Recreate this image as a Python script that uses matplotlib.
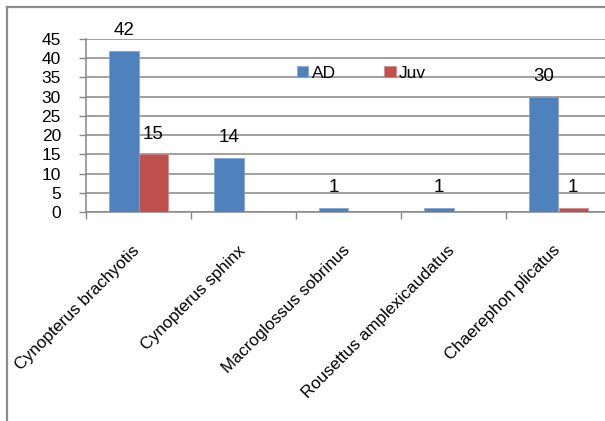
import matplotlib
matplotlib.use("Agg")
import matplotlib.pyplot as plt
from matplotlib import font_manager
from matplotlib.lines import Line2D
import matplotlib.transforms as mtransforms
import numpy as np

species = ["Cynopterus brachyotis", "Cynopterus sphinx", "Macroglossus sobrinus",
           "Rousettus amplexicaudatus", "Chaerephon plicatus"]
ad = [42, 14, 1, 1, 30]
juv = [15, 0, 0, 0, 1]
ad_labels = ["42", "14", "1", "1", "30"]
juv_labels = ["15", "", "", "", "1"]
yticks = [0, 5, 10, 15, 20, 25, 30, 35, 40, 45]

names = {f.name for f in font_manager.fontManager.ttflist}
reg = "Liberation Sans" if "Liberation Sans" in names else "DejaVu Sans"
plt.rcParams['font.family'] = [reg, 'DejaVu Sans']

W, H = 605, 421
fig = plt.figure(figsize=(W / 100, H / 100), dpi=100)

# outer frame (top and left visible)
fig.add_artist(Line2D([7 / W, 7 / W], [0, 1 - 7 / H], color="#8c8c8c", lw=1.6,
                      transform=fig.transFigure))
fig.add_artist(Line2D([7 / W, 1], [1 - 7 / H, 1 - 7 / H], color="#8c8c8c", lw=1.6,
                      transform=fig.transFigure))

left, right_px = 86, 86 + 5 * 105
y0, y45 = 212, 39
ax = fig.add_axes([left / W, 1 - y0 / H, (right_px - left) / W, (y0 - y45) / H])

x = np.arange(len(species))
bw = 0.28
gray = "#868686"
b1 = ax.bar(x - bw / 2, ad, bw, color="#4F81BD", edgecolor="#7fa3d0", linewidth=0.5, label="AD", zorder=3)
b2 = ax.bar(x + bw / 2, juv, bw, color="#C0504D", edgecolor="#d08a88", linewidth=0.5, label="Juv", zorder=3)

ax.bar_label(b1, labels=ad_labels, padding=8.5, fontsize=13.5)
ax.bar_label(b2, labels=juv_labels, padding=8.5, fontsize=13.5)

ax.set_xlim(-0.5, 4.5)
ax.set_ylim(0, 45)
ax.set_yticks(yticks)
ax.tick_params(axis="y", length=5, width=1, color=gray, pad=13, labelsize=12.5)
ax.yaxis.grid(True, color=gray, lw=1.1, zorder=0)
ax.set_axisbelow(True)

ax.set_xticks(x)
ax.set_xticklabels(species, rotation=45, ha="right", va="center", rotation_mode="anchor",
                   fontsize=12.2)
ax.tick_params(axis="x", which="major", length=0, pad=26)
off = mtransforms.ScaledTranslation(-1 / 100, 0, fig.dpi_scale_trans)
for lab in ax.get_xticklabels():
    lab.set_transform(lab.get_transform() + off)
ax.set_xticks(np.arange(-0.5, 5, 1), minor=True)
ax.tick_params(axis="x", which="minor", length=5, width=1, color=gray)

for s in ["top", "right"]:
    ax.spines[s].set_visible(False)
for s in ["left", "bottom"]:
    ax.spines[s].set_color(gray)
    ax.spines[s].set_linewidth(1.1)

fig.legend(handles=[b1, b2], labels=["AD", "Juv"], loc="center left",
           bbox_to_anchor=(297 / W, 1 - 73 / H), ncol=2, frameon=False,
           fontsize=12.5,
           handlelength=0.65, handleheight=0.65, handletextpad=0.2,
           columnspacing=2.8, borderpad=0, borderaxespad=0)

fig.savefig("out.png", dpi=100)
